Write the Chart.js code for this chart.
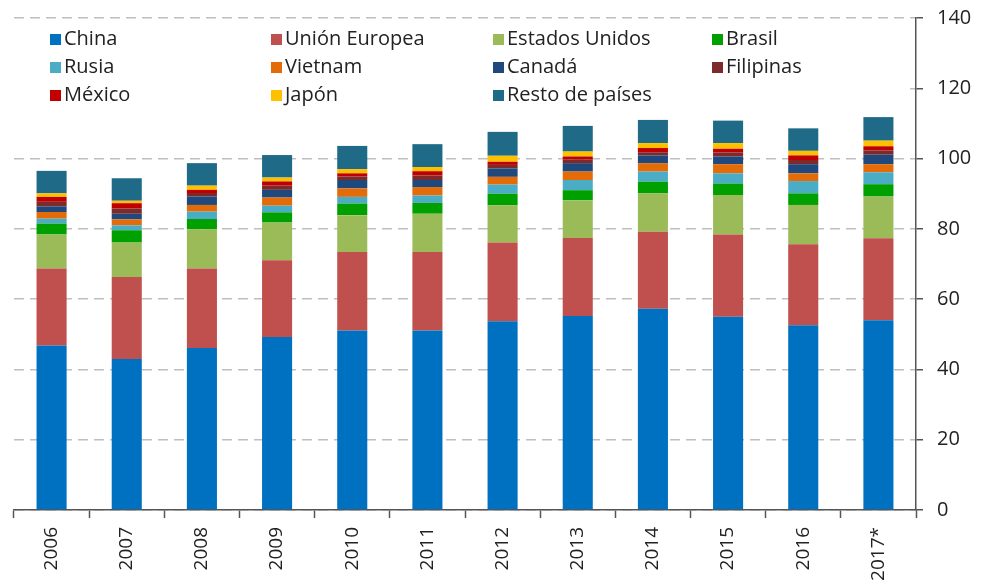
<!DOCTYPE html>
<html>
<head>
<meta charset="utf-8">
<script src="https://cdn.jsdelivr.net/npm/chart.js@4"></script>
<style>
  html, body { margin: 0; padding: 0; background: #fff; }
  #wrap { width: 983px; height: 586px; }
</style>
</head>
<body>
<div id="wrap"><canvas id="myChart" width="983" height="586"></canvas></div>
<script>
// Years
var years = ["2006","2007","2008","2009","2010","2011","2012","2013","2014","2015","2016","2017*"];

// Series, bottom to top of each stack
var china     = [46.8, 43.0, 46.1, 49.2, 51.1, 51.1, 53.7, 55.2, 57.3, 55.0, 52.6, 54.0];
var unionEur  = [21.9, 23.3, 22.6, 21.9, 22.3, 22.3, 22.4, 22.2, 21.9, 23.4, 23.0, 23.3];
var eeuu      = [9.7, 9.8, 11.2, 10.7, 10.5, 10.9, 10.6, 10.7, 10.9, 11.2, 11.2, 11.9];
var brasil    = [3.1, 3.5, 2.9, 2.9, 3.3, 3.1, 3.3, 2.9, 3.3, 3.3, 3.3, 3.5];
var rusia     = [1.4, 1.4, 2.1, 1.9, 1.9, 2.1, 2.6, 2.9, 2.9, 2.9, 3.5, 3.4];
var vietnam   = [1.9, 1.7, 1.9, 2.3, 2.4, 2.4, 2.2, 2.4, 2.4, 2.6, 2.2, 2.3];
var canada    = [1.6, 1.6, 2.4, 2.2, 2.4, 2.0, 2.4, 2.4, 2.2, 2.2, 2.6, 2.7];
var filipinas = [1.3, 1.5, 1.0, 1.2, 1.0, 1.3, 1.0, 1.0, 0.9, 1.1, 1.2, 1.2];
var mexico    = [1.4, 1.5, 0.9, 1.2, 0.9, 1.2, 0.9, 0.9, 1.2, 1.1, 1.3, 1.2];
var japon     = [1.0, 0.7, 1.2, 1.1, 1.2, 1.2, 1.7, 1.4, 1.4, 1.6, 1.3, 1.6];
var resto     = [6.4, 6.4, 6.4, 6.4, 6.6, 6.5, 6.8, 7.3, 6.6, 6.4, 6.4, 6.7];

var yTicks = [0, 20, 40, 60, 80, 100, 120, 140];

// legend order as in the picture (4 columns)
var legendOrder = ["China","Unión Europea","Estados Unidos","Brasil",
                   "Rusia","Vietnam","Canadá","Filipinas",
                   "México","Japón","Resto de países"];

var FONT = "'Open Sans', sans-serif";

function serie(label, values, color) {
  return {
    label: label,
    data: values,
    backgroundColor: color,
    borderWidth: 0,
    stack: "s",
    barPercentage: 0.4,
    categoryPercentage: 1.0
  };
}

var data = {
  labels: years,
  datasets: [
    serie("China", china, "#0070C0"),
    serie("Unión Europea", unionEur, "#C0504D"),
    serie("Estados Unidos", eeuu, "#9BBB59"),
    serie("Brasil", brasil, "#00A000"),
    serie("Rusia", rusia, "#4BACC6"),
    serie("Vietnam", vietnam, "#E36C09"),
    serie("Canadá", canada, "#1F497D"),
    serie("Filipinas", filipinas, "#7F2A2A"),
    serie("México", mexico, "#C00000"),
    serie("Japón", japon, "#FFC000"),
    serie("Resto de países", resto, "#1F6B87")
  ]
};

// legend drawn inside the plot, 4 columns like the original
var gridLegend = {
  id: "gridLegend",
  afterDatasetsDraw: function(chart) {
    var ctx = chart.ctx;
    var area = chart.chartArea;
    var colX = [50, 271, 493, 712];
    var rowY = [39, 67, 95];
    ctx.save();
    ctx.fillStyle = "#fff";
    ctx.fillRect(area.left, 26, area.right - area.left - 7, 82);
    ctx.font = "20px " + FONT;
    ctx.textBaseline = "middle";
    legendOrder.forEach(function(name, i) {
      var ds = chart.data.datasets.find(function(d) { return d.label === name; });
      var x = colX[i % 4], y = rowY[Math.floor(i / 4)];
      ctx.fillStyle = ds.backgroundColor;
      ctx.fillRect(x, y - 5, 11, 11);
      ctx.fillStyle = "#222";
      ctx.fillText(name, x + 14, y);
    });
    ctx.restore();
  }
};

const config = {
  type: "bar",
  data: data,
  plugins: [gridLegend],
  options: {
    responsive: false,
    animation: false,
    layout: { padding: { left: 14, right: 0, top: 18, bottom: 0 } },
    plugins: {
      legend: { display: false },
      tooltip: { enabled: false }
    },
    scales: {
      x: {
        stacked: true,
        afterFit: function(axis) { axis.height = 76; },
        grid: {
          offset: true,
          drawOnChartArea: false,
          drawTicks: true,
          tickLength: 8,
          tickColor: "#555",
          tickWidth: 1.5
        },
        border: { display: true, color: "#555", width: 1.5 },
        ticks: {
          minRotation: 90,
          maxRotation: 90,
          color: "#222",
          font: { family: FONT, size: 19 },
          padding: 9
        }
      },
      y: {
        stacked: true,
        position: "right",
        min: 0,
        max: 140,
        afterFit: function(axis) { axis.width = 67; axis.paddingTop = 0; },
        afterBuildTicks: function(axis) {
          axis.ticks = yTicks.map(function(v) { return { value: v }; });
        },
        grid: {
          color: "#BFBFBF",
          lineWidth: 1.5,
          tickLength: 7,
          tickColor: "#555",
          tickWidth: 1.5
        },
        border: { display: true, color: "#555", width: 1.5, dash: [10, 6] },
        ticks: {
          color: "#222",
          font: { family: FONT, size: 20 },
          padding: 14
        }
      }
    }
  }
};

const myChart = new Chart(document.getElementById("myChart"), config);
</script>
</body>
</html>
